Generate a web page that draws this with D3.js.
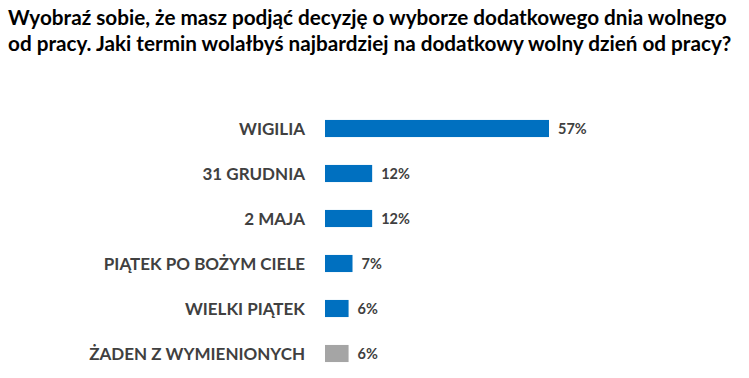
<!DOCTYPE html>
<html>
<head>
<meta charset="utf-8">
<script src="https://cdn.jsdelivr.net/npm/d3@7"></script>
<style>
  body { margin: 0; background: #fff; }
  text { font-family: Lato, "Open Sans", sans-serif; font-weight: bold; }
</style>
</head>
<body>
<div id="chart"></div>
<script>
// chart data
const titleLines = [
    'Wyobraź sobie, że masz podjąć decyzję o wyborze dodatkowego dnia wolnego',
    'od pracy. Jaki termin wolałbyś najbardziej na dodatkowy wolny dzień od pracy?',
];
const categories = ['WIGILIA', '31 GRUDNIA', '2 MAJA', 'PIĄTEK PO BOŻYM CIELE', 'WIELKI PIĄTEK', 'ŻADEN Z WYMIENIONYCH'];
const values = [57, 12, 12, 7, 6, 6];
const barColors = ['#0070C0', '#0070C0', '#0070C0', '#0070C0', '#0070C0', '#A5A5A5'];

const width = 749;
const height = 378;
const margin = { top: 106, left: 325, right: 100, bottom: 2 };

const svg = d3
    .select('#chart')
    .append('svg')
    .attr('width', width)
    .attr('height', height);

// title
svg.append('g')
    .selectAll('text')
    .data(titleLines)
    .enter()
    .append('text')
    .attr('x', 8)
    .attr('y', (d, i) => 25 + i * 26)
    .attr('fill', '#000')
    .style('font-size', '20.7px')
    .text(d => d);

const x = d3.scaleLinear()
    .domain([0, 57])
    .range([margin.left, 549]);

const y = d3.scaleBand()
    .domain(categories)
    .range([margin.top, margin.top + 45 * categories.length])
    .paddingInner(0.62)
    .paddingOuter(0.31);

const rows = svg.append('g')
    .selectAll('g')
    .data(categories)
    .enter()
    .append('g');

rows.append('rect')
    .attr('x', x(0))
    .attr('y', d => y(d))
    .attr('width', (d, i) => x(values[i]) - x(0))
    .attr('height', y.bandwidth())
    .attr('fill', (d, i) => barColors[i]);

// category labels
rows.append('text')
    .attr('x', x(0) - 20)
    .attr('y', d => y(d) + y.bandwidth() / 2)
    .attr('dy', '0.36em')
    .attr('text-anchor', 'end')
    .attr('fill', '#404040')
    .style('font-size', '17px')
    .text(d => d);

// value labels
rows.append('text')
    .attr('x', (d, i) => x(values[i]) + 9)
    .attr('y', d => y(d) + y.bandwidth() / 2)
    .attr('dy', '0.36em')
    .attr('fill', '#404040')
    .style('font-size', '14.5px')
    .text((d, i) => values[i] + '%');
</script>
</body>
</html>
